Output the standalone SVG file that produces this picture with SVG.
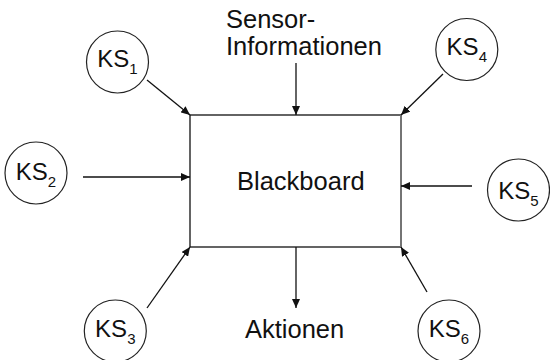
<svg xmlns="http://www.w3.org/2000/svg" width="550" height="360" viewBox="0 0 550 360">
<style>
  text { font-family: "Liberation Sans", Arial, sans-serif; fill: #111; }
  .lbl { font-size: 25.5px; }
  .ks { font-size: 24px; text-anchor: middle; }
  .sub { font-size: 15px; }
  .node circle { fill: #fff; stroke: #222; stroke-width: 1.2; }
  .conn line { stroke: #111; stroke-width: 1.3; marker-end: url(#ah); }
</style>
<defs>
  <marker id="ah" markerUnits="userSpaceOnUse" markerWidth="9" markerHeight="8" refX="9" refY="4" orient="auto">
    <path d="M0,0 L9,4 L0,8 z" fill="#111"/>
  </marker>
</defs>
<rect width="550" height="360" fill="#fff"/>

<g id="blackboard" class="node">
  <rect x="190" y="115" width="211" height="132" fill="#fff" stroke="#111" stroke-width="1.3"/>
  <line x1="401" y1="115" x2="401" y2="247" stroke="#777" stroke-width="1.8"/>
  <text class="lbl" x="237" y="190">Blackboard</text>
</g>

<g id="sensor">
  <text class="lbl" x="226" y="28">Sensor-</text>
  <text class="lbl" x="226" y="55">Informationen</text>
</g>

<g id="aktionen">
  <text class="lbl" x="245" y="338">Aktionen</text>
</g>

<g id="ks1" class="node">
  <circle cx="117.5" cy="62" r="31"/>
  <text class="ks" x="117.5" y="67">KS<tspan class="sub" dy="6.5">1</tspan></text>
</g>
<g id="ks2" class="node">
  <circle cx="36" cy="173" r="31"/>
  <text class="ks" x="36" y="180">KS<tspan class="sub" dy="6.5">2</tspan></text>
</g>
<g id="ks3" class="node">
  <circle cx="115.3" cy="331" r="31"/>
  <text class="ks" x="115.3" y="337">KS<tspan class="sub" dy="6.5">3</tspan></text>
</g>
<g id="ks4" class="node">
  <circle cx="466.8" cy="49.5" r="31"/>
  <text class="ks" x="466.8" y="55">KS<tspan class="sub" dy="6.5">4</tspan></text>
</g>
<g id="ks5" class="node">
  <circle cx="518.5" cy="190" r="31"/>
  <text class="ks" x="518.5" y="199">KS<tspan class="sub" dy="6.5">5</tspan></text>
</g>
<g id="ks6" class="node">
  <circle cx="449" cy="331" r="31"/>
  <text class="ks" x="449" y="337">KS<tspan class="sub" dy="6.5">6</tspan></text>
</g>

<g id="connectors" class="conn">
  <line x1="147" y1="80" x2="190" y2="115"/>
  <line x1="83" y1="177" x2="190" y2="177"/>
  <line x1="147" y1="308" x2="190" y2="247"/>
  <line x1="443" y1="74" x2="401" y2="115"/>
  <line x1="472" y1="186" x2="401" y2="186"/>
  <line x1="427" y1="292" x2="401" y2="247"/>
  <line x1="296" y1="63" x2="296" y2="115"/>
  <line x1="296" y1="247" x2="296" y2="308"/>
</g>
</svg>
